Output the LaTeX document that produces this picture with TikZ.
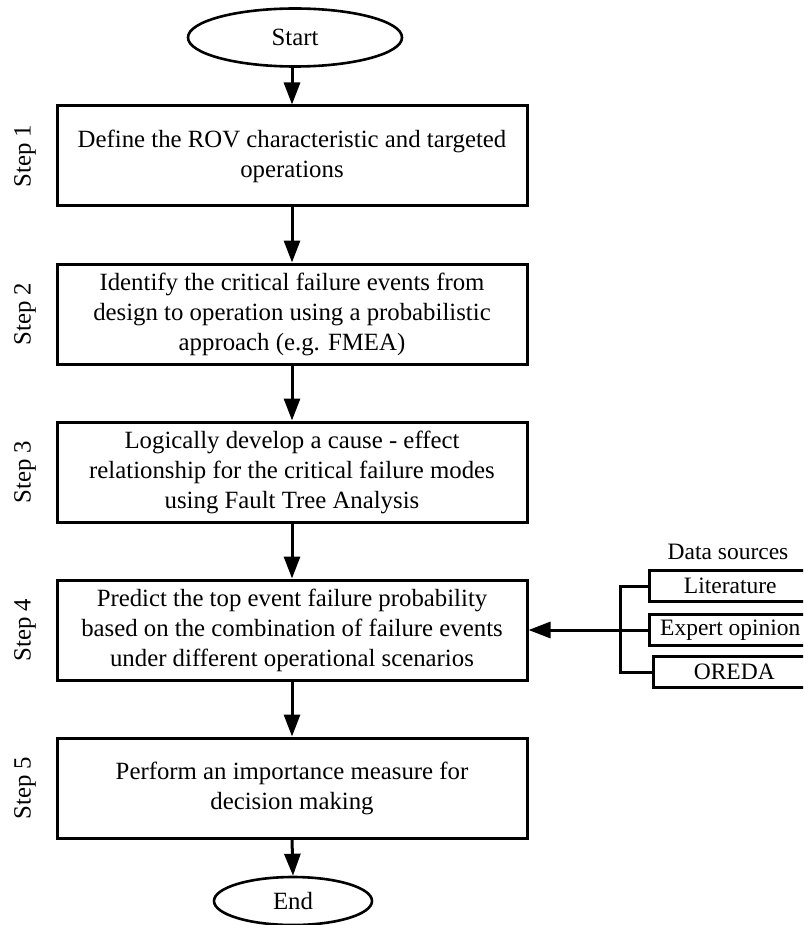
\documentclass[tikz,border=0pt]{standalone}
\usepackage{fontspec}
\setmainfont{Liberation Serif}
\usetikzlibrary{shapes.geometric,arrows.meta}
\begin{document}
\begin{tikzpicture}[x=1pt,y=-1pt,
  stepbox/.style={draw, line width=3pt, minimum width=470pt, minimum height=100pt,
    align=center, inner sep=0pt, font=\fontsize{24.8}{30}\selectfont},
  term/.style={draw, ellipse, line width=2.6pt, inner sep=0pt, font=\fontsize{24.8}{30}\selectfont},
  arr/.style={line width=3pt, -{Triangle[length=22pt,width=16pt]}},
  steplabel/.style={rotate=90, inner sep=0pt, font=\fontsize{24.8}{30}\selectfont},
  srcbox/.style={draw, line width=2.6pt, minimum width=162pt, minimum height=31pt,
    anchor=west, inner sep=0pt, font=\fontsize{23.5}{26}\selectfont},
  link/.style={line width=3pt}
]
\useasboundingbox (0,0) rectangle (803,925);
\fill[white] (0,0) rectangle (803,925);
\clip (0,0) rectangle (803,925);

\node[term, minimum width=214pt, minimum height=58pt] (start) at (295,37.5) {Start};

\node[stepbox] (s1) at (292,156) {Define the ROV characteristic and targeted\\operations};
\node[stepbox] (s2) at (292,314) {Identify the critical failure events from\\design to operation using a probabilistic\\approach (e.g. FMEA)};
\node[stepbox] (s3) at (292,472) {Logically develop a cause - effect\\relationship for the critical failure modes\\using Fault Tree Analysis};
\node[stepbox] (s4) at (292,630) {Predict the top event failure probability\\based on the combination of failure events\\under different operational scenarios};
\node[stepbox] (s5) at (292,788) {Perform an importance measure for\\decision making};

\node[term, minimum width=158pt, minimum height=48pt] (end) at (293,901) {End};

\node[steplabel] (l1) at (25,156) {Step 1};
\node[steplabel] (l2) at (25,314) {Step 2};
\node[steplabel] (l3) at (25,472) {Step 3};
\node[steplabel] (l4) at (25,630) {Step 4};
\node[steplabel] (l5) at (25,788) {Step 5};

\draw[arr] (start.south -| s1.north) -- (s1.north);
\draw[arr] (s1) -- (s2);
\draw[arr] (s2) -- (s3);
\draw[arr] (s3) -- (s4);
\draw[arr] (s4) -- (s5);
\draw[arr] (s5.south) -- (end.north);

\node[font=\fontsize{23.5}{26}\selectfont] (ds) at (728,552) {Data sources};
\node[srcbox] (lit) at (648,586) {Literature};
\node[srcbox] (exp) at (648,630) {Expert opinion};
\node[srcbox] (ore) at (652,672) {OREDA};

\coordinate (br) at (620,630);
\draw[link] (lit.west) -| (br) |- (ore.west);
\draw[arr] (exp.west) -- (s4.east);
\end{tikzpicture}
\end{document}
